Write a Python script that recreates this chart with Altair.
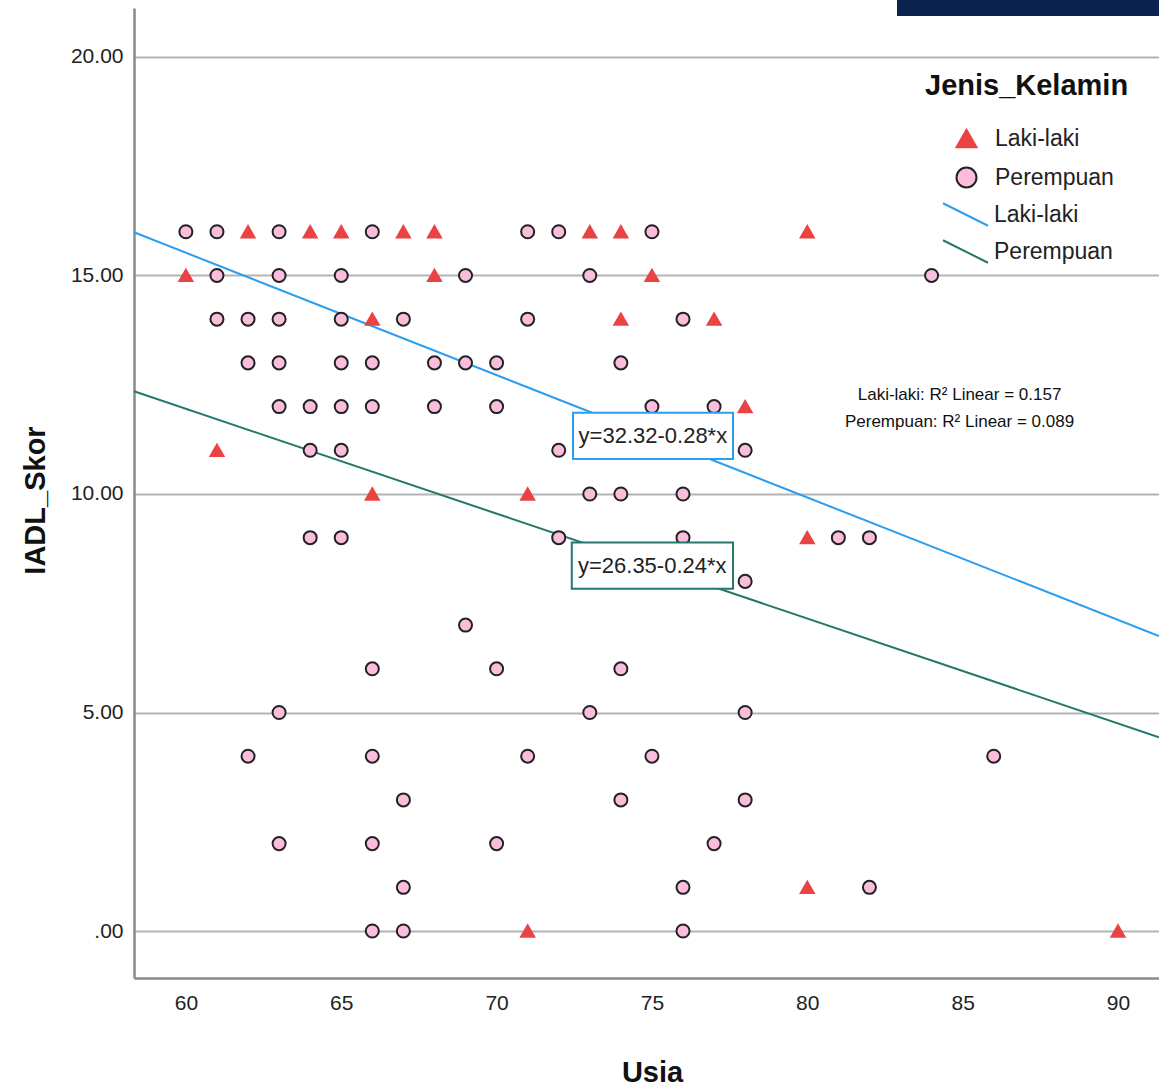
import altair as alt
import pandas as pd

# ---------------- data ----------------
# Laki-laki (triangles)
male_age = [62, 64, 65, 67, 68, 73, 74, 80, 60, 68, 75, 66, 74, 77, 78, 61, 66, 71, 80, 80, 71, 90]
male_iadl = [16, 16, 16, 16, 16, 16, 16, 16, 15, 15, 15, 14, 14, 14, 12, 11, 10, 10, 9, 1, 0, 0]

# Perempuan (circles)
female_age = [60, 61, 63, 66, 71, 72, 75,
              61, 63, 65, 69, 73, 84,
              61, 62, 63, 65, 67, 71, 76,
              62, 63, 65, 66, 68, 69, 70, 74,
              63, 64, 65, 66, 68, 70, 75, 77,
              64, 65, 72, 78,
              73, 74, 76,
              64, 65, 72, 76, 81, 82,
              78,
              69,
              66, 70, 74,
              63, 73, 78,
              62, 66, 71, 75, 86,
              67, 74, 78,
              63, 66, 70, 77,
              67, 76, 82,
              66, 67, 76]
female_iadl = ([16] * 7 + [15] * 6 + [14] * 7 + [13] * 8 + [12] * 8 + [11] * 4 + [10] * 3 +
               [9] * 6 + [8] + [7] + [6] * 3 + [5] * 3 + [4] * 5 + [3] * 3 + [2] * 4 + [1] * 3 + [0] * 3)

groups = ["Laki-laki", "Perempuan"]
line_keys = ["Garis Laki-laki", "Garis Perempuan"]
fit_intercept = [32.32, 26.35]
fit_slope = [-0.28, -0.24]
fit_labels = ["y=32.32-0.28*x", "y=26.35-0.24*x"]
r2_labels = ["Laki-laki: R\u00b2 Linear = 0.157", "Perempuan: R\u00b2 Linear = 0.089"]

x_domain = [58.33, 91.32]
y_domain = [-1.075, 21.12]
y_ticks = [0, 5, 10, 15, 20]
x_ticks = [60, 65, 70, 75, 80, 85, 90]

# label anchors (data coordinates)
eq_x = [75.03, 75.01]
eq_y = [11.33, 8.35]
eq_x0 = [72.46, 72.42]
eq_x1 = [77.61, 77.61]
eq_y0 = [11.86, 8.89]
eq_y1 = [10.80, 7.83]
r2_x = [84.9, 84.9]
r2_y = [12.27, 11.65]

RED = "#ea4343"
PINK = "#fbbddc"
BLUE = "#2b9ef0"
TEAL = "#24786b"
SANS = "Liberation Sans, Arial, Helvetica, sans-serif"

# ---------------- tables ----------------
pts = pd.DataFrame({
    "Usia": male_age + female_age,
    "IADL_Skor": male_iadl + female_iadl,
    "Jenis_Kelamin": ["Laki-laki"] * len(male_age) + ["Perempuan"] * len(female_age),
})

fit_rows = []
for g, b0, b1 in zip(line_keys, fit_intercept, fit_slope):
    for xv in x_domain:
        fit_rows.append({"Garis": g, "Usia": xv, "b0": b0, "b1": b1})
fits = pd.DataFrame(fit_rows)

boxes = pd.DataFrame({"x0": eq_x0, "x1": eq_x1, "y0": eq_y0, "y1": eq_y1,
                      "xc": eq_x, "yc": eq_y, "txt": fit_labels, "col": [BLUE, TEAL]})
r2 = pd.DataFrame({"x": r2_x, "y": r2_y, "txt": r2_labels})

xscale = alt.Scale(domain=x_domain, nice=False, zero=False)
yscale = alt.Scale(domain=y_domain, nice=False, zero=False)

x_axis = alt.Axis(values=x_ticks, grid=False, ticks=False, tickSize=0, labelPadding=14,
                  labelFont=SANS, labelFontSize=21, labelColor="#222",
                  domainColor="#8a8a8a", domainWidth=2.5,
                  title="Usia", titleFont=SANS, titleFontSize=29, titleFontWeight="bold",
                  titleColor="#111", titleX=518, titleY=94, titleBaseline="middle", titleAlign="center")
y_axis = alt.Axis(values=y_ticks, grid=True, gridColor="#b4b4b4", gridWidth=2,
                  ticks=False, tickSize=0, labelPadding=11,
                  labelExpr="datum.value == 0 ? '.00' : format(datum.value, '.2f')",
                  labelFont=SANS, labelFontSize=21, labelColor="#222",
                  domainColor="#8a8a8a", domainWidth=2.5,
                  title="IADL_Skor", titleFont=SANS, titleFontSize=29, titleFontWeight="bold",
                  titleColor="#111", titleX=-99, titleY=492, titleAngle=-90,
                  titleBaseline="middle", titleAlign="center")

# regression lines
lines = alt.Chart(fits).transform_calculate(
    yfit="datum.b0 + datum.b1 * datum.Usia"
).mark_line(strokeWidth=2).encode(
    x=alt.X("Usia:Q", scale=xscale, axis=x_axis),
    y=alt.Y("yfit:Q", scale=yscale, axis=y_axis),
    color=alt.Color("Garis:N",
                    scale=alt.Scale(domain=line_keys, range=[BLUE, TEAL]),
                    legend=alt.Legend(title=None, orient="none", legendX=791, legendY=194,
                                      labelExpr="replace(datum.label, 'Garis ', '')",
                                      symbolType="M-2,-1L2,1", symbolSize=506,
                                      symbolStrokeWidth=2, symbolOffset=28,
                                      labelFont=SANS, labelFontSize=23, labelColor="#222",
                                      labelOffset=16, rowPadding=6, padding=0)),
    detail="Garis:N",
)

pt_legend = alt.Legend(title="Jenis_Kelamin", orient="none", legendX=791, legendY=64,
                       titleFont=SANS, titleFontSize=29, titleFontWeight="bold",
                       titleColor="#111", titlePadding=26, titleLimit=400, labelLimit=400,
                       symbolSize=400, symbolStrokeWidth=2, symbolOffset=30,
                       labelFont=SANS, labelFontSize=23, labelColor="#222",
                       labelOffset=17, rowPadding=11, padding=0)

points = alt.Chart(pts).mark_point(filled=True, size=170, strokeWidth=2, opacity=1).encode(
    x=alt.X("Usia:Q", scale=xscale),
    y=alt.Y("IADL_Skor:Q", scale=yscale),
    fill=alt.Fill("Jenis_Kelamin:N", scale=alt.Scale(domain=groups, range=[RED, PINK]),
                  legend=pt_legend),
    shape=alt.Shape("Jenis_Kelamin:N", scale=alt.Scale(domain=groups, range=["triangle-up", "circle"]),
                    legend=pt_legend),
    stroke=alt.Stroke("Jenis_Kelamin:N", scale=alt.Scale(domain=groups, range=[RED, "#222222"]),
                      legend=pt_legend),
)

box = alt.Chart(boxes).mark_rect(fill="white", strokeWidth=2).encode(
    x=alt.X("x0:Q", scale=xscale), x2="x1:Q",
    y=alt.Y("y0:Q", scale=yscale), y2="y1:Q",
    stroke=alt.Stroke("col:N", scale=None),
)
box_text = alt.Chart(boxes).mark_text(font=SANS, fontSize=22, color="#222",
                                      align="center", baseline="middle").encode(
    x=alt.X("xc:Q", scale=xscale), y=alt.Y("yc:Q", scale=yscale), text="txt:N")

r2_text = alt.Chart(r2).mark_text(font=SANS, fontSize=17, color="#111",
                                  align="center", baseline="middle").encode(
    x=alt.X("x:Q", scale=xscale), y=alt.Y("y:Q", scale=yscale), text="txt:N")

banner = alt.Chart(pd.DataFrame({"k": [0]})).mark_rect(color="#0c2350").encode(
    x=alt.value(763), x2=alt.value(1025), y=alt.value(-8), y2=alt.value(8))

chart = alt.layer(lines, points, box, box_text, r2_text, banner).properties(
    width=1025, height=970,
    autosize=alt.AutoSizeParams(type="none"),
    padding={"left": 134, "top": 8, "right": 0, "bottom": 109},
    background="white",
).configure_view(strokeWidth=0)

chart.save("out.html", embed_options={"renderer": "svg", "actions": False})
